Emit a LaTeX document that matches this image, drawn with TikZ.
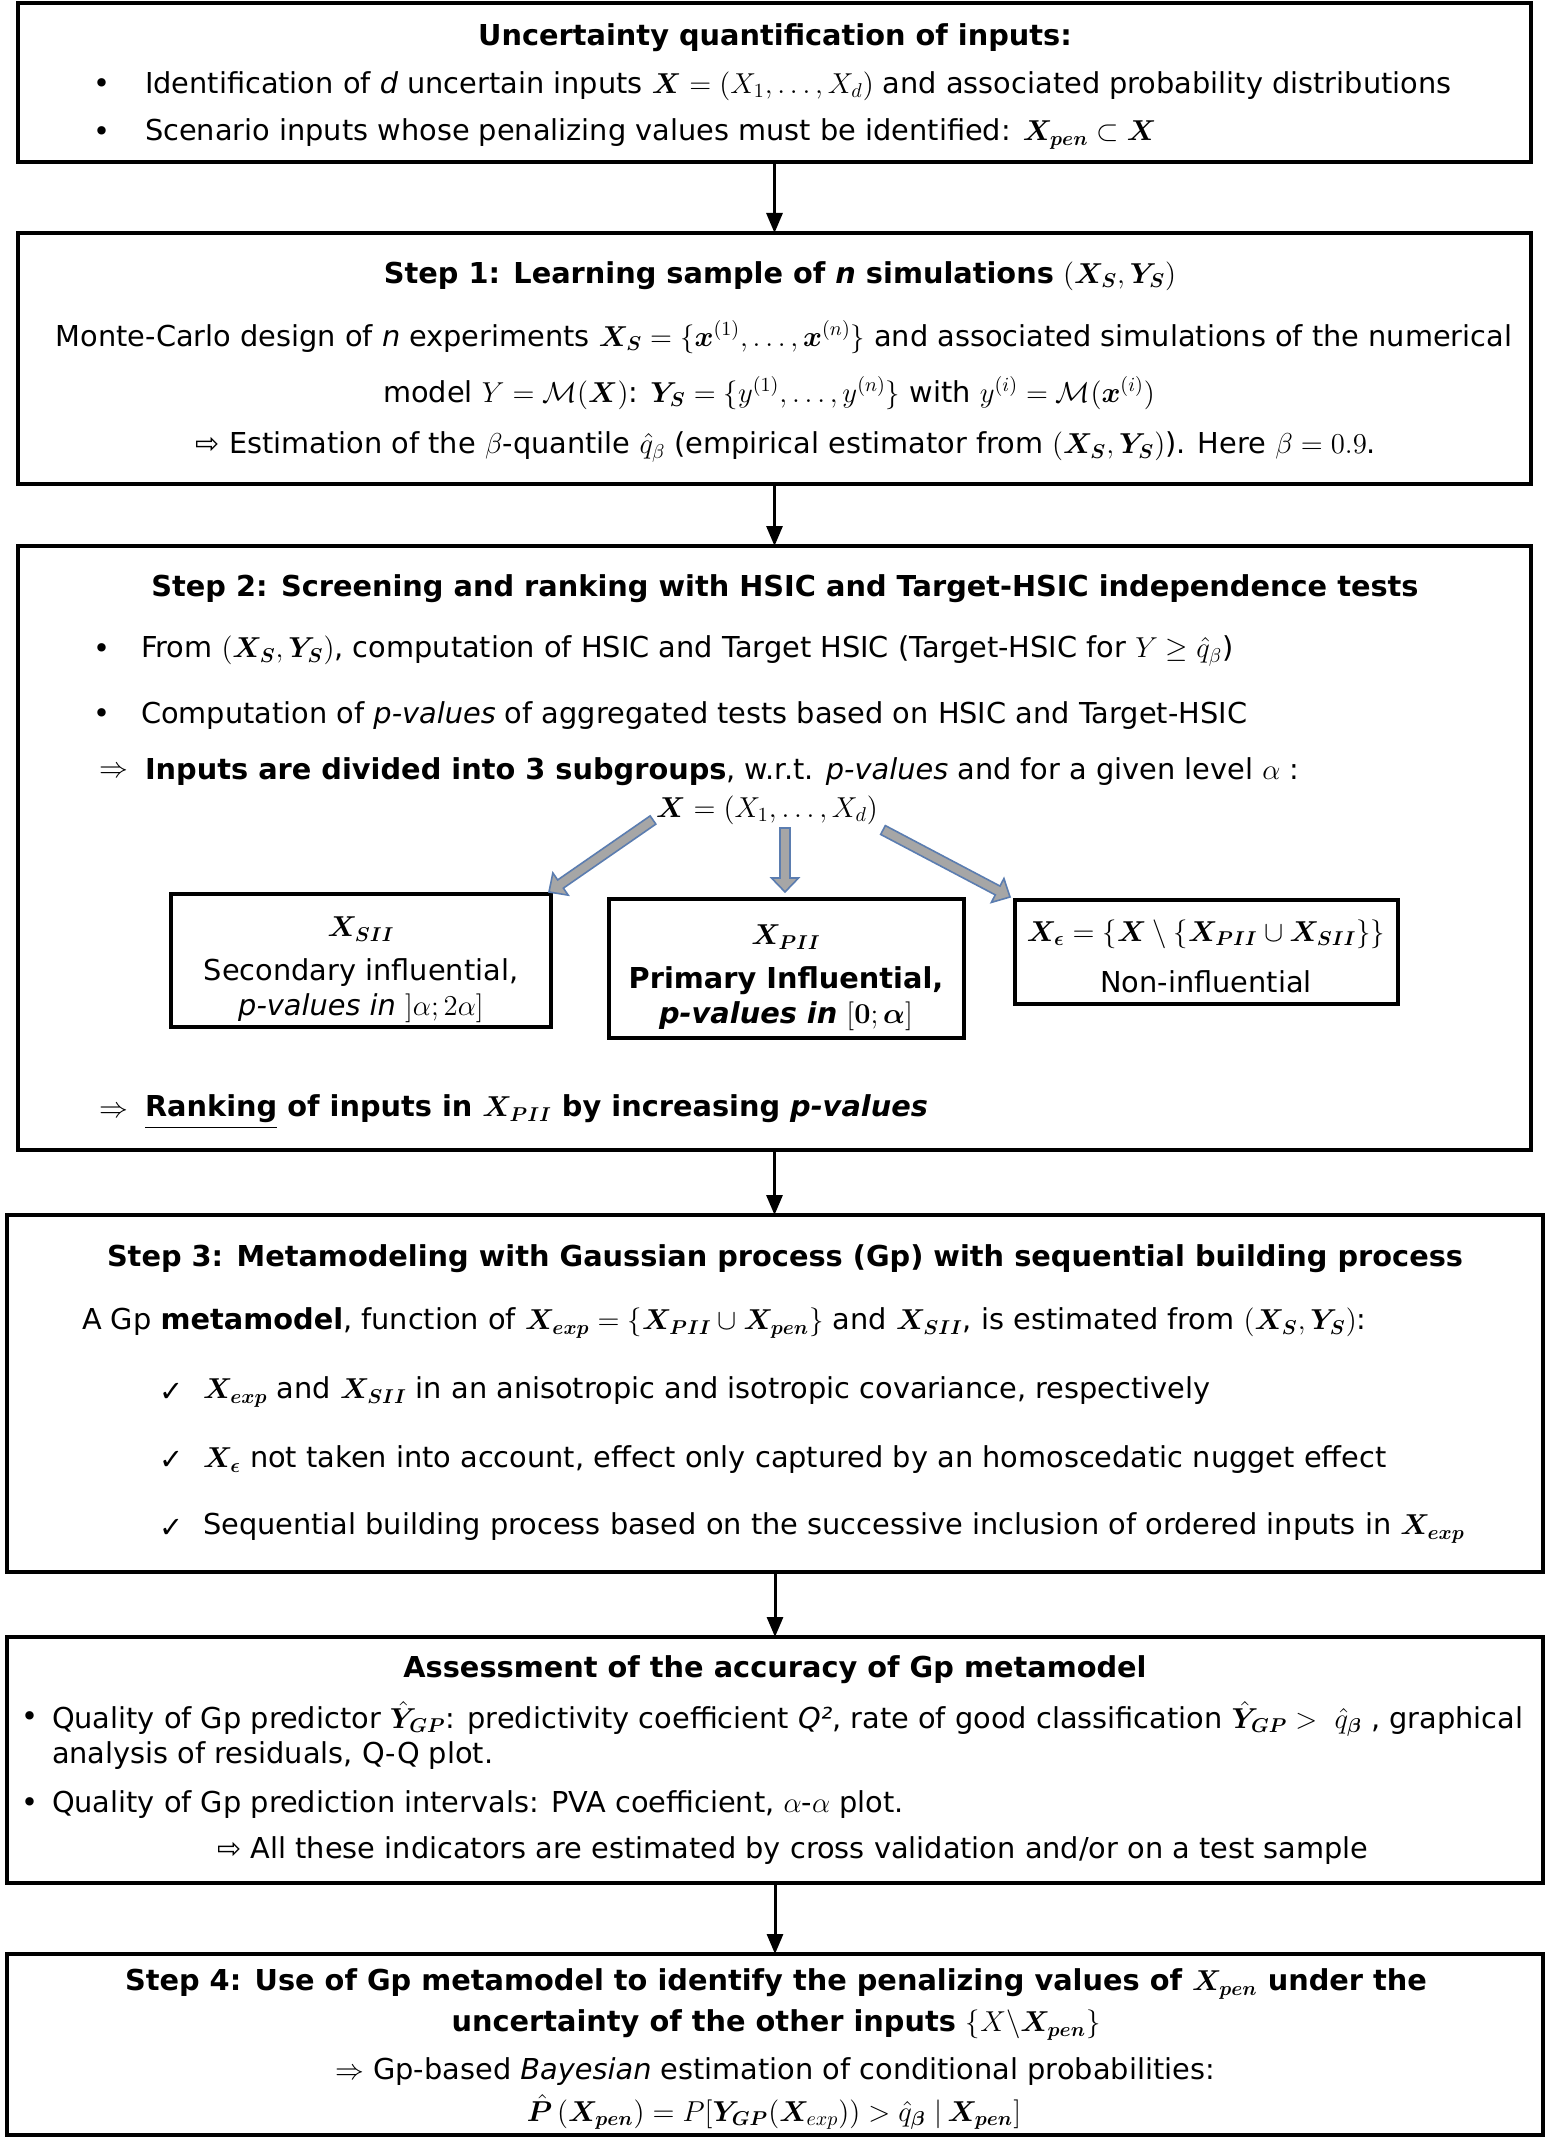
\documentclass[tikz,border=0pt]{standalone}
\usepackage{amsmath}
\usepackage{bm}
\usepackage{fontspec}
\setmainfont{DejaVu Sans}
\usetikzlibrary{arrows.meta,calc,fit}
\definecolor{garrfill}{HTML}{A6A6A6}
\definecolor{garrdraw}{HTML}{5B7DB0}
\newcommand\fs{\fontsize{14.4}{17.3}\selectfont}
\newcommand\garrow[3]{%
  \coordinate (#1b) at ($(#3)!7pt!(#2)$);
  \draw[garr] ($(#2)!2.5pt!90:(#3)$) -- ($(#1b)!2.5pt!90:(#3)$) -- ($(#1b)!6.75pt!90:(#3)$) -- (#3) -- ($(#1b)!6.75pt!-90:(#3)$) -- ($(#1b)!2.5pt!-90:(#3)$) -- ($(#2)!2.5pt!-90:(#3)$) -- cycle;}
\begin{document}
\begin{tikzpicture}[x=0.5pt,y=-0.5pt,
  every node/.style={inner sep=0pt, outer sep=0pt, font=\fs},
  box/.style={draw, line width=2pt, inner sep=0pt},
  sbox/.style={draw, line width=1.8pt, inner sep=0pt},
  txt/.style={anchor=center, yshift=-2pt},
  ltxt/.style={anchor=west, yshift=-2pt},
  flow/.style={line width=1.5pt, -{Triangle[length=10pt,width=8pt]}},
  garr/.style={fill=garrfill, draw=garrdraw, line width=0.8pt, line join=miter}]
\path[use as bounding box, fill=white] (0,0) rectangle (1554,2139);

% ---------- box 1
\node[box, fit={(18,3) (1531,162)}] (b1) {};
\node[txt] (t1) at (775,34) {\textbf{Uncertainty quantification of inputs:}};
\node[txt] (b1d1) at (102,82) {•};
\node[ltxt] (b1l1) at (145,82) {Identification of \textit{d} uncertain inputs $\bm{X}=(X_1,\dots,X_d)$ and associated probability distributions};
\node[txt] (b1d2) at (102,130) {•};
\node[ltxt] (b1l2) at (145,130) {Scenario inputs whose penalizing values must be identified: $\bm{X}_{\bm{pen}}\subset\bm{X}$};

% ---------- box 2
\node[box, fit={(18,233) (1531,484)}] (b2) {};
\node[txt] (t2) at (780,272) {\textbf{Step 1: Learning sample of \textit{n} simulations} $(\bm{X_S},\bm{Y_S})$};
\node[txt] (b2l1) at (784,333) {Monte-Carlo design of \textit{n} experiments $\bm{X_S}=\{\bm{x}^{(1)},\dots,\bm{x}^{(n)}\}$ and associated simulations of the numerical};
\node[txt] (b2l2) at (769,389) {model $Y=\mathcal{M}(\bm{X})$: $\bm{Y_S}=\{y^{(1)},\dots,y^{(n)}\}$ with $y^{(i)}=\mathcal{M}(\bm{x}^{(i)})$};
\node[txt] (b2l3) at (786,443) {⇨ Estimation of the $\beta$-quantile $\hat{q}_\beta$ (empirical estimator from $(\bm{X_S},\bm{Y_S})$). Here $\beta=0.9$.};

% ---------- box 3
\node[box, fit={(18,546) (1531,1150)}] (b3) {};
\node[txt] (t3) at (785,585) {\textbf{Step 2: Screening and ranking with HSIC and Target-HSIC independence tests}};
\node[txt] (b3d1) at (102,647) {•};
\node[ltxt] (b3l1) at (141,647) {From $(\bm{X_S},\bm{Y_S})$, computation of HSIC and Target HSIC (Target-HSIC for $Y\geq\hat{q}_\beta$)};
\node[txt] (b3d2) at (102,712) {•};
\node[ltxt] (b3l2) at (141,712) {Computation of \textit{p-values} of aggregated tests based on HSIC and Target-HSIC};
\node[txt] (b3a1) at (114,768) {$\Rightarrow$};
\node[ltxt] (b3l3) at (145,768) {\textbf{Inputs are divided into 3 subgroups}, w.r.t. \textit{p-values} and for a given level $\alpha$ :};
\node[txt] (xall) at (767,806) {$\bm{X}=(X_1,\dots,X_d)$};

\node[sbox, fit={(171,894) (551,1027)}] (s1) {};
\node[txt] (s1a) at (361,925) {$\bm{X_{SII}}$};
\node[txt] (s1b) at (361,969) {Secondary influential,};
\node[txt] (s1c) at (361,1004) {\textit{p-values in} $]\alpha;2\alpha]$};

\node[sbox, fit={(609,899) (964,1038)}] (s2) {};
\node[txt] (s2a) at (786,933) {$\bm{X_{PII}}$};
\node[txt] (s2b) at (786,977) {\textbf{Primary Influential,}};
\node[txt] (s2c) at (786,1012) {\textbf{\textit{p-values in}} $[\bm{0};\bm{\alpha}]$};

\node[sbox, fit={(1015,900) (1398,1004)}] (s3) {};
\node[txt] (s3a) at (1206,930) {$\bm{X_\epsilon}=\{\bm{X}\setminus\{\bm{X_{PII}}\cup\bm{X_{SII}}\}\}$};
\node[txt] (s3b) at (1206,978) {Non-influential};

\coordinate (gl0) at (653,820);  \coordinate (gl1) at (549,892);
\coordinate (gm0) at (785,828);  \coordinate (gm1) at (785,892);
\coordinate (gr0) at (883,830);  \coordinate (gr1) at (1010,897);
\garrow{gl}{gl0}{gl1}
\garrow{gm}{gm0}{gm1}
\garrow{gr}{gr0}{gr1}

\node[txt] (b3a2) at (114,1108) {$\Rightarrow$};
\node[ltxt] (b3l4) at (145,1108) {\textbf{\underline{Ranking} of inputs in $\bm{X_{PII}}$ by increasing \textit{p-values}}};

% ---------- box 4
\node[box, fit={(7,1215) (1543,1572)}] (b4) {};
\node[txt] (t4) at (785,1255) {\textbf{Step 3: Metamodeling with Gaussian process (Gp) with sequential building process}};
\node[ltxt] (b4l1) at (82,1319) {A Gp \textbf{metamodel}, function of $\bm{X_{exp}}=\{\bm{X_{PII}}\cup\bm{X_{pen}}\}$ and $\bm{X_{SII}}$, is estimated from $(\bm{X_S},\bm{Y_S})$:};
\node[txt] (b4c1) at (172,1388) {✓};
\node[ltxt] (b4l2) at (203,1388) {$\bm{X_{exp}}$ and $\bm{X_{SII}}$ in an anisotropic and isotropic covariance, respectively};
\node[txt] (b4c2) at (172,1456) {✓};
\node[ltxt] (b4l3) at (203,1456) {$\bm{X_\epsilon}$ not taken into account, effect only captured by an homoscedatic nugget effect};
\node[txt] (b4c3) at (172,1524) {✓};
\node[ltxt] (b4l4) at (203,1524) {Sequential building process based on the successive inclusion of ordered inputs in $\bm{X_{exp}}$};

% ---------- box 5
\node[box, fit={(7,1637) (1543,1883)}] (b5) {};
\node[txt] (t5) at (775,1666) {\textbf{Assessment of the accuracy of Gp metamodel}};
\node[txt] (b5d1) at (30,1715) {•};
\node[ltxt] (b5l1) at (52,1715) {Quality of Gp predictor $\hat{\bm{Y}}_{\bm{GP}}$: predictivity coefficient \textit{Q²}, rate of good classification $\hat{\bm{Y}}_{\bm{GP}}>\ \hat{q}_{\bm{\beta}}$ , graphical};
\node[ltxt] (b5l2) at (52,1752) {analysis of residuals, Q-Q plot.};
\node[txt] (b5d2) at (30,1801) {•};
\node[ltxt] (b5l3) at (52,1801) {Quality of Gp prediction intervals: PVA coefficient, $\alpha$-$\alpha$ plot.};
\node[txt] (b5l4) at (793,1847) {⇨ All these indicators are estimated by cross validation and/or on a test sample};

% ---------- box 6
\node[box, fit={(7,1954) (1543,2135)}] (b6) {};
\node[txt] (t6a) at (776,1980) {\textbf{Step 4: Use of Gp metamodel to identify the penalizing values of $\bm{X_{pen}}$ under the}};
\node[txt] (t6b) at (776,2021) {\textbf{uncertainty of the other inputs $\{X\backslash\bm{X_{pen}}\}$}};
\node[txt] (b6l1) at (775,2068) {$\Rightarrow$ Gp-based \textit{Bayesian} estimation of conditional probabilities:};
\node[txt] (b6l2) at (774,2108) {$\hat{\bm{P}}\,(\bm{X_{pen}}) = P[\bm{Y_{GP}}(\bm{X}_{exp})) > \hat{q}_{\bm{\beta}}\ |\,\bm{X_{pen}}]$};

% ---------- flow arrows
\draw[flow] (b1.south) -- (b1.south |- b2.north);
\draw[flow] (b2.south) -- (b2.south |- b3.north);
\draw[flow] (b3.south) -- (b3.south |- b4.north);
\draw[flow] (b4.south) -- (b4.south |- b5.north);
\draw[flow] (b5.south) -- (b5.south |- b6.north);
\end{tikzpicture}
\end{document}
